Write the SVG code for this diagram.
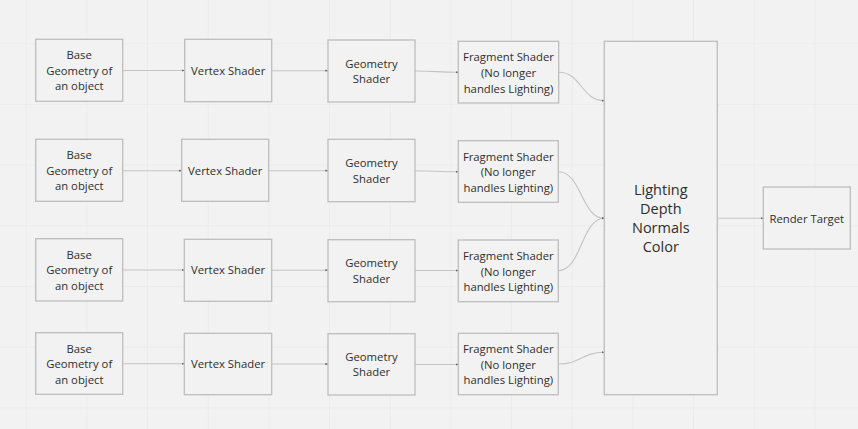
<svg xmlns="http://www.w3.org/2000/svg" width="858" height="429" viewBox="0 0 858 429">
<defs>
<pattern id="grid" x="25.7" y="43.3" width="60.67" height="60.67" patternUnits="userSpaceOnUse">
<path d="M0,0 H60.67 M0,0 V60.67" fill="none" stroke="#e6e6e6" stroke-width="1"/>
</pattern>
<marker id="dot" viewBox="0 0 4 4" refX="3.5" refY="2" markerWidth="3" markerHeight="3" markerUnits="userSpaceOnUse" orient="auto">
<path d="M0,0.5 L4,2 L0,3.5 Z" fill="#666"/>
</marker>
<style>
.box{fill:#f2f2f2;stroke:#bdbdbd;stroke-width:1.3}
.t{font-family:"Open Sans","Liberation Sans",sans-serif;font-size:11.3px;fill:#2e2e2e;text-anchor:middle}
.big{font-size:14.5px}
.c{fill:none;stroke:#c4c4c4;stroke-width:1.1;marker-end:url(#dot)}
</style>
</defs>
<rect width="858" height="429" fill="#f2f2f2"/>
<rect width="858" height="429" fill="url(#grid)"/>

<g id="connectors">
<path class="c" d="M123,70.5 H184.5"/>
<path class="c" d="M271.7,70.7 H328"/>
<path class="c" d="M415,71 C436,71 437,72.3 458.3,72.3"/>
<path class="c" d="M558.7,72.3 C581.5,72.3 581.5,100.7 604.3,100.7"/>

<path class="c" d="M123,170.7 H181.7"/>
<path class="c" d="M268.7,170.7 H328"/>
<path class="c" d="M415,170.7 C436,170.7 437,171.7 458.3,171.7"/>
<path class="c" d="M558.3,171.7 C581.5,171.7 581.5,218.3 604.3,218.3"/>

<path class="c" d="M123,270 H184.3"/>
<path class="c" d="M271.7,270.2 H328"/>
<path class="c" d="M415,270.5 H458.3"/>
<path class="c" d="M558.3,270.7 C581.5,270.7 581.5,218.3 604.3,218.3"/>

<path class="c" d="M123,363.7 H184.3"/>
<path class="c" d="M271.7,364 H328"/>
<path class="c" d="M415,364.5 H458.3"/>
<path class="c" d="M558.3,364 C581.5,364 581.5,352.3 604.3,352.3"/>

<path class="c" d="M717.3,218.3 H763.3"/>
</g>

<g id="base1"><rect class="box" x="35.7" y="39.3" width="87" height="62"/><text class="t" x="79.2" y="59">Base</text><text class="t" x="79.2" y="74.5">Geometry of</text><text class="t" x="79.2" y="90">an object</text></g>
<g id="vertex1"><rect class="box" x="184.7" y="39.3" width="87" height="62.4"/><text class="t" x="228.2" y="74.5">Vertex Shader</text></g>
<g id="geometry1"><rect class="box" x="328" y="40" width="87" height="62"/><text class="t" x="371.5" y="67.5">Geometry</text><text class="t" x="371.5" y="83">Shader</text></g>
<g id="fragment1"><rect class="box" x="458.3" y="41.3" width="100.4" height="61.7"/><text class="t" x="508.5" y="61.2">Fragment Shader</text><text class="t" x="508.5" y="77">(No longer</text><text class="t" x="508.5" y="92.6">handles Lighting)</text></g>

<g id="base2"><rect class="box" x="35.7" y="139.3" width="87" height="62"/><text class="t" x="79.2" y="159">Base</text><text class="t" x="79.2" y="174.5">Geometry of</text><text class="t" x="79.2" y="190">an object</text></g>
<g id="vertex2"><rect class="box" x="181.7" y="139.3" width="87" height="62"/><text class="t" x="225.2" y="174.5">Vertex Shader</text></g>
<g id="geometry2"><rect class="box" x="328" y="139.3" width="87" height="62.4"/><text class="t" x="371.5" y="166.8">Geometry</text><text class="t" x="371.5" y="182.5">Shader</text></g>
<g id="fragment2"><rect class="box" x="458.3" y="140.7" width="100" height="61.6"/><text class="t" x="508.3" y="160.6">Fragment Shader</text><text class="t" x="508.3" y="176.2">(No longer</text><text class="t" x="508.3" y="191.8">handles Lighting)</text></g>

<g id="base3"><rect class="box" x="35.7" y="238.7" width="87" height="62.3"/><text class="t" x="79.2" y="258.7">Base</text><text class="t" x="79.2" y="274">Geometry of</text><text class="t" x="79.2" y="289.8">an object</text></g>
<g id="vertex3"><rect class="box" x="184.3" y="239.3" width="87.4" height="62"/><text class="t" x="228" y="274.3">Vertex Shader</text></g>
<g id="geometry3"><rect class="box" x="328" y="239.7" width="87" height="62"/><text class="t" x="371.5" y="267">Geometry</text><text class="t" x="371.5" y="282.6">Shader</text></g>
<g id="fragment3"><rect class="box" x="458.3" y="240" width="100" height="61.7"/><text class="t" x="508.3" y="260">Fragment Shader</text><text class="t" x="508.3" y="275.6">(No longer</text><text class="t" x="508.3" y="291.2">handles Lighting)</text></g>

<g id="base4"><rect class="box" x="35.7" y="332.7" width="87" height="61.6"/><text class="t" x="79.2" y="352.6">Base</text><text class="t" x="79.2" y="368">Geometry of</text><text class="t" x="79.2" y="383.8">an object</text></g>
<g id="vertex4"><rect class="box" x="184.3" y="333.3" width="87.4" height="61.4"/><text class="t" x="228" y="368">Vertex Shader</text></g>
<g id="geometry4"><rect class="box" x="328" y="333.7" width="87" height="61.3"/><text class="t" x="371.5" y="360.8">Geometry</text><text class="t" x="371.5" y="376.4">Shader</text></g>
<g id="fragment4"><rect class="box" x="458.3" y="333.3" width="100" height="61.4"/><text class="t" x="508.3" y="353.2">Fragment Shader</text><text class="t" x="508.3" y="368.8">(No longer</text><text class="t" x="508.3" y="384.4">handles Lighting)</text></g>

<g id="gbuffer"><rect class="box" x="604.3" y="41.3" width="113" height="353.4"/><text class="t big" x="660.8" y="195">Lighting</text><text class="t big" x="660.8" y="214.2">Depth</text><text class="t big" x="660.8" y="233.3">Normals</text><text class="t big" x="660.8" y="252.4">Color</text></g>

<g id="render"><rect class="box" x="763.3" y="187" width="87" height="62"/><text class="t" x="806.8" y="222.6">Render Target</text></g>
</svg>
